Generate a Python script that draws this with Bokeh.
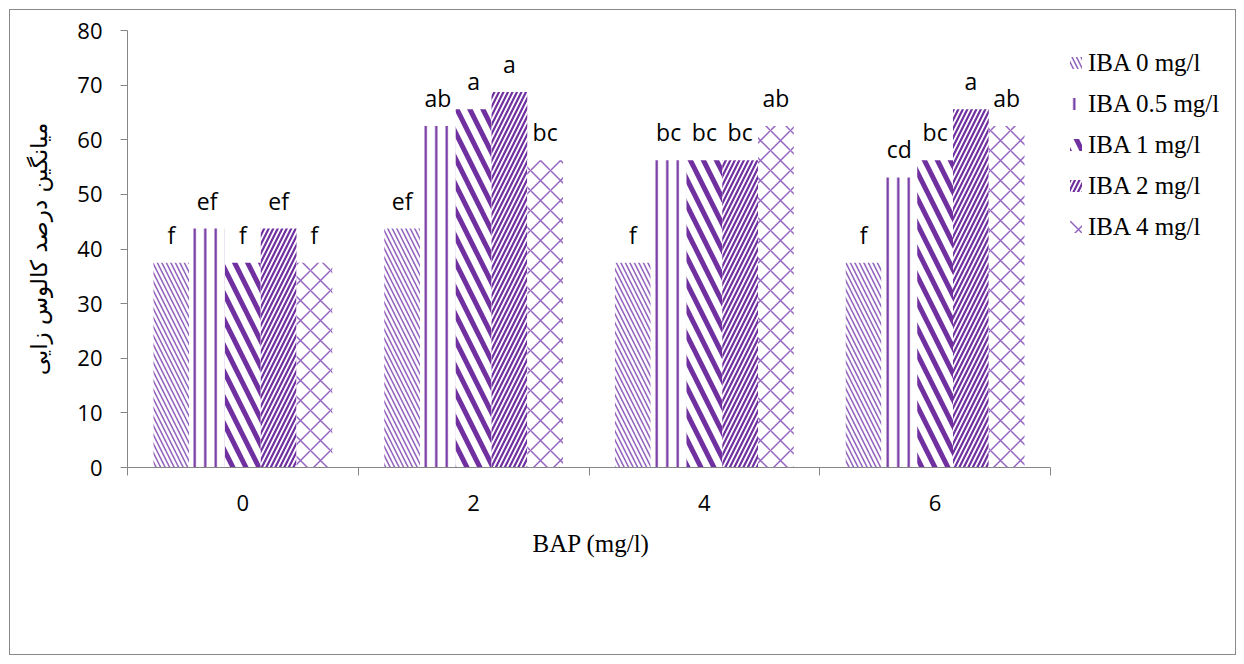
from bokeh.plotting import figure
from bokeh.models import FixedTicker, Legend, LegendItem, Range1d, ColumnDataSource, Title
from bokeh.core.properties import value
from bokeh.embed import file_html
from bokeh.resources import INLINE

# ---- data ----
bap_levels = ["0", "2", "4", "6"]
series_names = ["IBA 0 mg/l", "IBA 0.5 mg/l", "IBA 1 mg/l", "IBA 2 mg/l", "IBA 4 mg/l"]
iba_0 = [37.5, 43.75, 37.5, 37.5]
iba_05 = [43.75, 62.5, 56.25, 53.1]
iba_1 = [37.5, 65.6, 56.25, 56.25]
iba_2 = [43.75, 68.75, 56.25, 65.6]
iba_4 = [37.5, 56.25, 62.5, 62.5]
letters_0 = ["f", "ef", "f", "f"]
letters_05 = ["ef", "ab", "bc", "cd"]
letters_1 = ["f", "a", "bc", "bc"]
letters_2 = ["ef", "a", "bc", "a"]
letters_4 = ["f", "bc", "ab", "ab"]
y_ticks = [0, 10, 20, 30, 40, 50, 60, 70, 80]
x_title = "BAP (mg/l)"
y_title = "میانگین درصد کالوس زایی"

series_values = [iba_0, iba_05, iba_1, iba_2, iba_4]
series_letters = [letters_0, letters_05, letters_1, letters_2, letters_4]

# ---- styles ----
purple = "#7030A0"
light_purple = "#9466c0"
hatch_styles = [
    dict(hatch_pattern="left_diagonal_line", hatch_scale=9, hatch_weight=1.6, hatch_color=light_purple),
    dict(hatch_pattern="vertical_line", hatch_scale=10.5, hatch_weight=2.2, hatch_color=purple),
    dict(hatch_pattern="left_diagonal_line", hatch_scale=26, hatch_weight=5.0, hatch_color=purple),
    dict(hatch_pattern="right_diagonal_line", hatch_scale=9, hatch_weight=2.2, hatch_color=purple),
    dict(hatch_pattern="diagonal_cross", hatch_scale=20, hatch_weight=1.5, hatch_color=light_purple),
]
bar_w = 0.155
axis_gray = "#868686"
tick_font = "Open Sans"
serif_font = "Liberation Serif"

n = len(bap_levels)
data_px = 923          # pixel width of the category area
frame_px = 1107        # frame extends right to hold the legend
p = figure(frame_width=frame_px, frame_height=437, output_backend="svg", toolbar_location=None,
           x_range=Range1d(0, n * frame_px / data_px), y_range=Range1d(0, 80),
           min_border_left=117, min_border_right=1, min_border_top=20, min_border_bottom=187)
p.styles = {"border": "1px solid #8a8a8a", "margin-left": "9px", "margin-top": "9px"}
p.outline_line_color = None
p.xgrid.visible = False
p.ygrid.visible = False
p.background_fill_color = "white"
p.border_fill_color = "white"

items = []
for j, (name, vals, lets, st) in enumerate(zip(series_names, series_values, series_letters, hatch_styles)):
    xs = [i + 0.5 + (j - 2) * bar_w for i in range(n)]
    src = ColumnDataSource(dict(x=xs, top=vals, lab=lets))
    r = p.vbar(x="x", top="top", width=bar_w, bottom=0, source=src,
               fill_color="white", line_color=None, **st)
    p.text(x="x", y="top", text="lab", source=src, text_align="center",
           text_baseline="alphabetic", y_offset=-28, text_font=value(tick_font),
           text_font_size="23px", text_color="black")
    items.append(LegendItem(label=name, renderers=[r]))

legend = Legend(items=items, location=(941, 220), orientation="vertical",
                glyph_width=15, glyph_height=15, label_standoff=5, spacing=0,
                label_height=41, padding=0, margin=0, border_line_color=None,
                background_fill_alpha=0, label_text_baseline="middle",
                label_text_font=serif_font, label_text_font_size="25px",
                label_text_color="black")
p.add_layout(legend, "center")

# x axis
xa = p.xaxis[0]
xa.bounds = (0, n)
xa.ticker = FixedTicker(ticks=[i + 0.5 for i in range(n)], minor_ticks=list(range(n + 1)))
xa.major_label_overrides = {i + 0.5: lab for i, lab in enumerate(bap_levels)}
xa.major_tick_out = 0
xa.major_tick_in = 0
xa.minor_tick_out = 8
xa.minor_tick_in = 0
xa.minor_tick_line_color = axis_gray
xa.axis_line_color = axis_gray
xa.major_label_text_font = tick_font
xa.major_label_text_font_size = "22px"
xa.major_label_text_color = "black"
xa.major_label_standoff = 19

# x axis title, centred under the category area (not the wider frame)
xt = Title(text=x_title, align="left", offset=405, standoff=28,
           text_font=serif_font, text_font_style="normal", text_font_size="25px",
           text_color="black")
p.add_layout(xt, "below")

# y axis
ya = p.yaxis[0]
ya.ticker = FixedTicker(ticks=y_ticks)
ya.major_tick_out = 7
ya.major_tick_in = 0
ya.major_tick_line_color = axis_gray
ya.minor_tick_line_color = None
ya.axis_line_color = axis_gray
ya.major_label_text_font = tick_font
ya.major_label_text_font_size = "22px"
ya.major_label_text_color = "black"
ya.major_label_standoff = 18
ya.axis_label = y_title
ya.axis_label_text_font = "DejaVu Sans"
ya.axis_label_text_font_style = "normal"
ya.axis_label_text_font_size = "23px"
ya.axis_label_text_color = "black"
ya.axis_label_standoff = 22

open("out.html", "w").write(file_html(p, INLINE))
